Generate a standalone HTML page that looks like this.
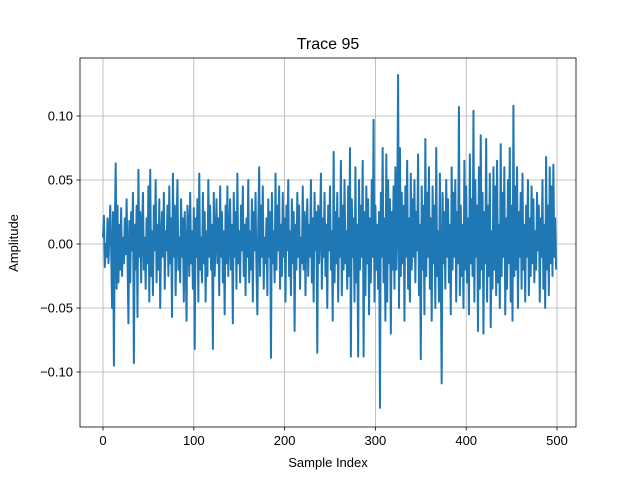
<!DOCTYPE html>
<html><head><meta charset="utf-8"><style>
body{margin:0;background:#fff;}
svg{display:block;font-family:"Liberation Sans","DejaVu Sans",sans-serif;}
</style></head><body>
<svg id="chart" width="640" height="480" viewBox="0 0 640 480" xmlns="http://www.w3.org/2000/svg">
<rect width="640" height="480" fill="#fff"/>
<g id="grid"></g>
<path id="trace" fill="none" stroke="#1f77b4" stroke-width="2" stroke-linejoin="round"/>
<rect x="80" y="58" width="496" height="369" fill="none" stroke="#000" stroke-width="0.8"/>
<g id="ticks" font-size="13" fill="#000"></g>
<text x="328" y="49" text-anchor="middle" font-size="16">Trace 95</text>
<text x="328" y="467" text-anchor="middle" font-size="13">Sample Index</text>
<text transform="translate(18,243) rotate(-90)" text-anchor="middle" font-size="13">Amplitude</text>
</svg>
<script>
const xTicks=[0,100,200,300,400,500];
const yTicks=[-0.10,-0.05,0.00,0.05,0.10];
const yTickLabels=["−0.10","−0.05","0.00","0.05","0.10"];
const values=[
5,22,-18,0,-10,20,-15,8,30,-5,-50,25,-95,10,63,-35,30,-30,15,-20,
28,-25,5,-15,20,-8,35,-10,-62,18,-30,25,-5,40,-93,15,-20,30,-57,58,
-10,25,-30,10,40,-20,5,-35,20,-15,45,-45,58,-25,10,-40,30,-5,50,-30,
15,-20,35,-50,5,25,-10,40,-35,10,-5,30,-25,45,-15,20,-57,55,-10,30,
-40,15,50,-20,5,-30,35,-10,20,-45,25,-5,-60,30,15,-25,40,-15,10,-35,
28,-82,20,-10,35,-45,55,-20,5,-30,40,-15,25,-45,10,-25,50,-10,30,-20,
15,-82,40,-25,5,35,-15,20,-40,45,-10,25,-30,10,-55,30,-15,45,-25,5,
35,-20,15,-62,40,-10,25,-35,55,-15,10,-30,30,-5,45,-25,15,-40,20,-10,
50,-30,10,-20,35,-45,25,-5,40,-20,-55,15,60,-25,30,-10,45,-35,5,-15,
20,-40,35,-10,25,-89,40,-15,10,-30,55,-20,30,-5,45,-35,15,-25,40,-10,
20,-45,30,-5,50,-25,10,-40,35,-15,25,-68,15,-20,40,-10,30,-35,5,-15,
45,-20,25,-40,10,35,-25,15,-10,50,-30,20,-45,40,-5,25,-85,30,-15,10,
55,-35,20,-10,40,-25,15,-50,30,-5,45,-20,10,-60,72,-30,25,-15,40,-45,
20,-10,65,-40,30,-20,50,-15,10,-35,45,-25,75,-88,35,-10,20,-45,60,-30,
15,-88,50,-20,30,-10,65,-88,25,-40,45,-15,35,-55,20,-30,50,-10,97,-45,
30,-20,15,-35,25,-128,40,-10,75,-30,20,-60,70,-45,50,-15,35,-70,25,-20,
45,-35,60,-20,15,132,-50,75,-25,40,-15,30,-60,45,-10,65,-35,20,-45,55,
-20,35,-10,50,-30,25,-5,70,-40,15,-90,45,-20,30,-55,82,-25,40,-10,60,
-35,20,-60,45,-15,30,-50,75,-25,10,-45,55,-20,-109,40,-15,25,-35,50,-10,
35,-30,15,-55,60,-20,40,-10,50,-45,25,-15,107,-40,30,-25,15,-50,65,-20,
45,-30,20,-55,70,-15,35,-25,104,-45,50,-10,30,-68,60,-35,85,-20,40,-70,
25,-15,82,-45,30,-25,55,-65,10,-35,60,-20,45,-40,65,-30,15,-50,78,-25,
40,-10,60,-55,20,-35,50,-15,75,-45,30,-60,108,-25,45,-20,60,-50,25,-10,
40,-35,55,-20,15,-45,30,-10,50,-40,20,-25,45,-15,35,-30,10,-20,40,-5,
30,-45,20,-10,50,-35,15,-50,68,-20,30,-40,60,-15,45,-25,62,-10,20,-20
];
const NS="http://www.w3.org/2000/svg";
function xs(i){return 103+i*0.908;}
function ys(v){return 244-v*1280;}
const grid=document.getElementById('grid'),ticks=document.getElementById('ticks');
function mk(tag,attrs,parent){const e=document.createElementNS(NS,tag);for(const k in attrs)e.setAttribute(k,attrs[k]);parent.appendChild(e);return e;}
xTicks.forEach(t=>{
  const x=xs(t);
  const g=mk('line',{x1:x,x2:x,y1:58,y2:427,stroke:'#b0b0b0','stroke-width':0.8},grid);
  
  
  mk('line',{x1:x,x2:x,y1:427,y2:430.5,stroke:'#000','stroke-width':0.8},ticks);
  const l=mk('text',{x:x,y:445,'text-anchor':'middle'},ticks);
  l.textContent=t;
  
  
});
yTicks.forEach((t,i)=>{
  const y=ys(t);
  const g=mk('line',{x1:80,x2:576,y1:y,y2:y,stroke:'#b0b0b0','stroke-width':0.8},grid);
  
  
  mk('line',{x1:76.5,x2:80,y1:y,y2:y,stroke:'#000','stroke-width':0.8},ticks);
  const l=mk('text',{x:73,y:y+4.5,'text-anchor':'end'},ticks);
  l.textContent=yTickLabels[i];
  
  
});
let d='';
values.forEach((v,i)=>{d+=(i?'L':'M')+xs(i).toFixed(2)+','+ys(v/1000).toFixed(2);});
document.getElementById('trace').setAttribute('d',d);
</script>
</body></html>
